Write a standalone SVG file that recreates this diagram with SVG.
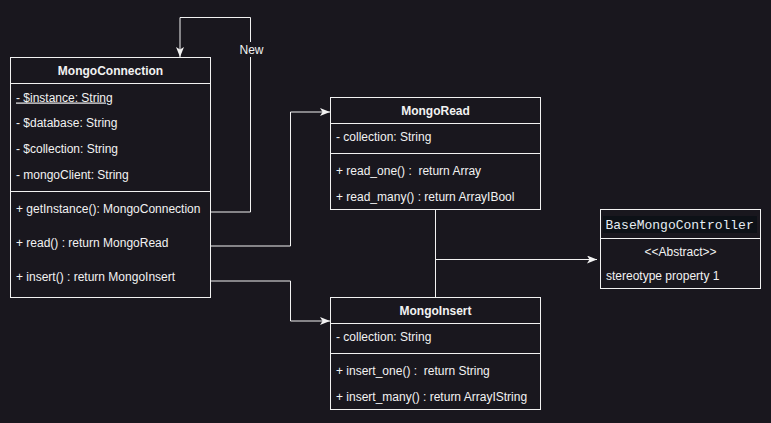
<svg xmlns="http://www.w3.org/2000/svg" width="771" height="423" viewBox="0 0 771 423">
<defs>
<style>
.bx{fill:none;stroke:#f2f2f2;stroke-width:1}
.ln{fill:none;stroke:#f2f2f2;stroke-width:1}
.t{font-family:"Liberation Sans",Arial,sans-serif;font-size:12px;fill:#f2f2f2;white-space:pre}
.tb{font-family:"Liberation Sans",Arial,sans-serif;font-size:12px;font-weight:bold;fill:#f2f2f2;text-anchor:middle}
.mono{font-family:"Liberation Mono","DejaVu Sans Mono",monospace;font-size:13px;fill:#e6edf3}
</style>
<marker id="arr" viewBox="0 0 10 8" refX="10" refY="4" markerWidth="10" markerHeight="8" markerUnits="userSpaceOnUse" orient="auto">
<path d="M0,0 L10,4 L0,8 L2.5,4 Z" fill="#f2f2f2"/>
</marker>
</defs>
<rect width="771" height="423" fill="#19171e"/>
<g id="connectors">
<path class="ln" d="M210.5,212 H250.5 V17.5 H180 V57" marker-end="url(#arr)"/>
<rect x="240" y="42" width="23" height="15" fill="#19171e"/>
<text class="t" x="251.5" y="54" text-anchor="middle" font-size="11">New</text>
<path class="ln" d="M210.5,246 H290.5 V112 H330" marker-end="url(#arr)"/>
<path class="ln" d="M210.5,281 H290.5 V321 H330" marker-end="url(#arr)"/>
<path class="ln" d="M435.5,209.5 V297.5"/>
<path class="ln" d="M435.5,259.5 H597" marker-end="url(#arr)"/>
</g>
<g id="MongoConnection">
<rect class="bx" x="10.5" y="57.5" width="200" height="240"/>
<path class="ln" d="M10.5,83.5 H210.5 M10.5,191.5 H210.5"/>
<text class="tb" x="110.5" y="75">MongoConnection</text>
<text class="t" x="16" y="101.5" text-decoration="underline">- $instance: String</text>
<text class="t" x="16" y="127">- $database: String</text>
<text class="t" x="16" y="152.5">- $collection: String</text>
<text class="t" x="16" y="178.5">- mongoClient: String</text>
<text class="t" x="16" y="213">+ getInstance(): MongoConnection</text>
<text class="t" x="16" y="247">+ read() : return MongoRead</text>
<text class="t" x="16" y="281">+ insert() : return MongoInsert</text>
</g>
<g id="MongoRead">
<rect class="bx" x="330.5" y="97.5" width="210" height="112"/>
<path class="ln" d="M330.5,123.5 H540.5 M330.5,153.5 H540.5"/>
<text class="tb" x="435.5" y="115">MongoRead</text>
<text class="t" x="336" y="141">- collection: String</text>
<text class="t" x="336" y="175">+ read_one() :  return Array</text>
<text class="t" x="336" y="201">+ read_many() : return ArrayIBool</text>
</g>
<g id="MongoInsert">
<rect class="bx" x="330.5" y="297.5" width="210" height="112"/>
<path class="ln" d="M330.5,323.5 H540.5 M330.5,353.5 H540.5"/>
<text class="tb" x="435.5" y="314.5">MongoInsert</text>
<text class="t" x="336" y="341">- collection: String</text>
<text class="t" x="336" y="375">+ insert_one() :  return String</text>
<text class="t" x="336" y="401">+ insert_many() : return ArrayIString</text>
</g>
<g id="BaseMongoController">
<rect class="bx" x="600.5" y="209.5" width="160" height="79"/>
<path class="ln" d="M600.5,238.5 H760.5"/>
<rect x="603" y="216" width="154" height="17" fill="#0d1117"/>
<text class="mono" x="605.5" y="228.5">BaseMongoController</text>
<text class="t" x="680.5" y="256" text-anchor="middle">&lt;&lt;Abstract&gt;&gt;</text>
<text class="t" x="606" y="280">stereotype property 1</text>
</g>
</svg>
